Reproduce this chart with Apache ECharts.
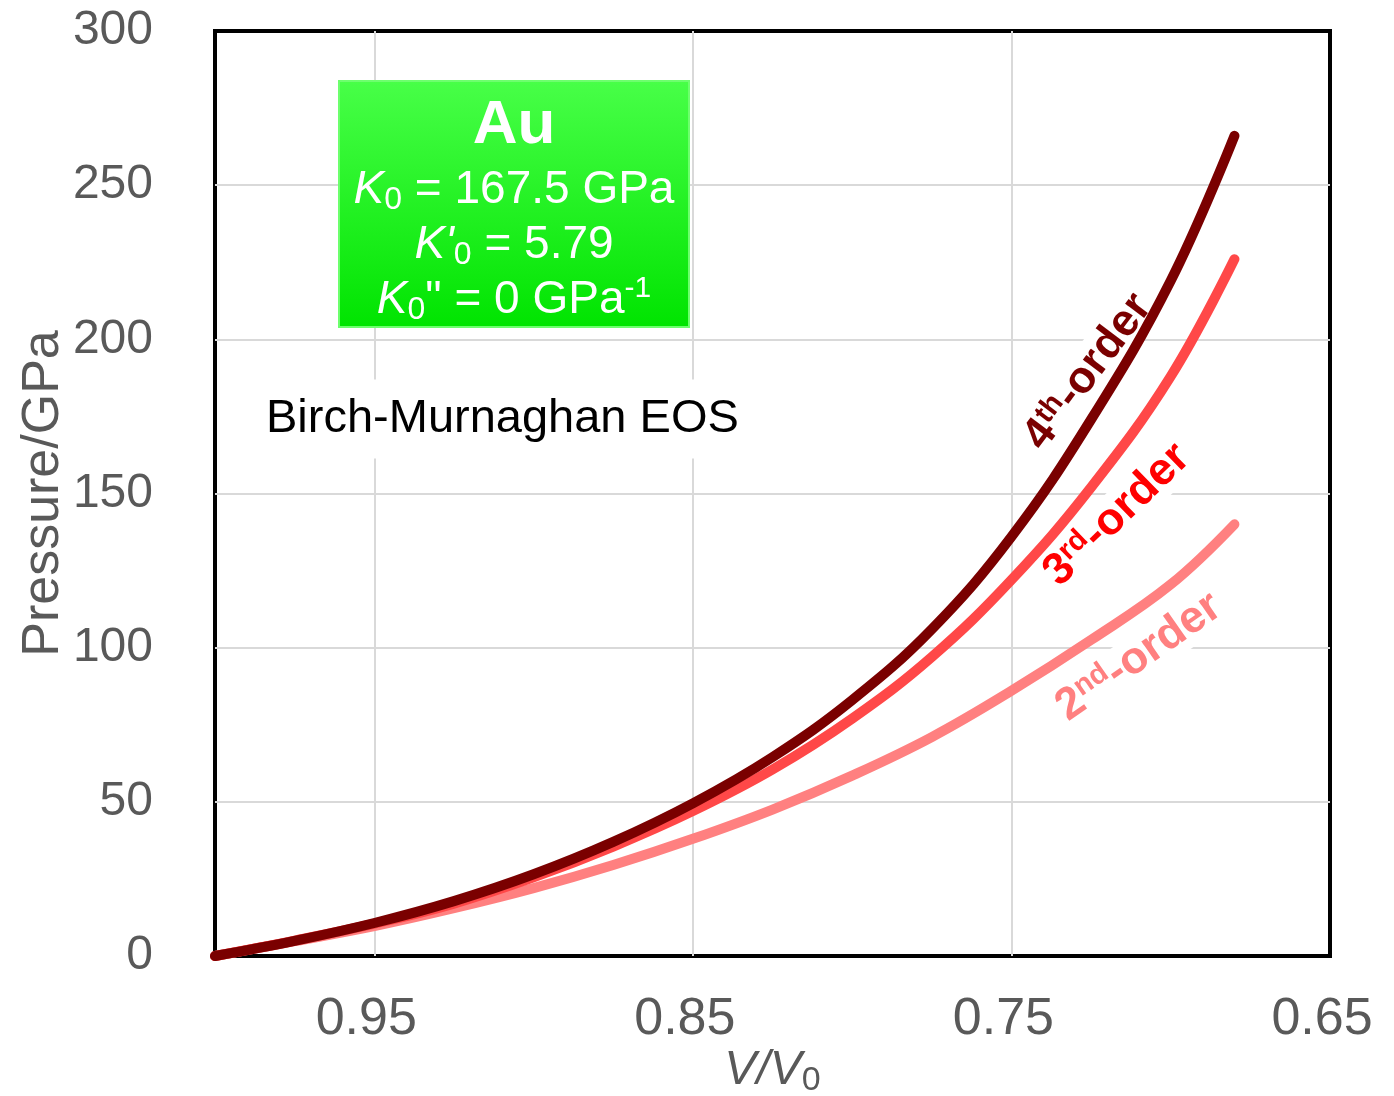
<!DOCTYPE html>
<html>
<head>
<meta charset="utf-8">
<script src="https://cdn.jsdelivr.net/npm/echarts@6/dist/echarts.min.js"></script>
<style>
  html, body { margin: 0; padding: 0; background: #fff; }
  #chart { width: 1394px; height: 1096px; }
</style>
</head>
<body>
<div id="chart"></div>
<script>
// V/V0 points
const vRatio = [1.0, 0.975, 0.95, 0.925, 0.9, 0.875, 0.85, 0.825, 0.8, 0.775, 0.75, 0.725, 0.7, 0.68];
// pressure (GPa) for each order of the Birch-Murnaghan EOS
const p2nd = [0, 4.8, 9.7, 15.5, 22, 29.5, 38, 47.5, 58.5, 71, 86, 102.5, 120.5, 140];
const p3rd = [0, 5, 10.5, 17, 25.5, 35.5, 47, 60.5, 77, 97, 122, 152, 188, 226];
const p4th = [0, 4.9, 10.7, 17.8, 26.5, 37, 49.5, 64.5, 83, 106, 136, 174, 219, 266];

const chart = echarts.init(document.getElementById('chart'));
const FONT = 'Liberation Sans';
const GRAY = '#595959';

let zip = function (xs, ys) {
  let out = [];
  for (let i = 0; i < xs.length; i++) out.push([xs[i], ys[i]]);
  return out;
};

let curve = function (name, color, data) {
  return {
    name: name,
    type: 'line',
    smooth: 0.4,
    showSymbol: false,
    clip: false,
    lineStyle: { color: color, width: 10, cap: 'round', join: 'round' },
    data: zip(vRatio, data)
  };
};

// white text for the green parameter box
let w = function (size, extra) {
  return Object.assign({ fill: '#fff', fontSize: size, fontFamily: FONT, lineHeight: 52 }, extra || {});
};
const boxRich = {
  n: w(46),
  k: w(46, { fontStyle: 'italic' }),
  sub: w(32, { lineHeight: 26, verticalAlign: 'bottom' }),
  sup: w(30, { lineHeight: 24, verticalAlign: 'top' })
};

let orderLabel = function (x, y, deg, num, sup, color, z) {
  return {
    type: 'text', x: x, y: y, z: z,
    rotation: deg * Math.PI / 180,
    style: {
      text: '{n|' + num + '}{s|' + sup + '}{n|-order}',
      align: 'center', verticalAlign: 'middle',
      backgroundColor: '#fff',
      rich: {
        n: { fill: color, fontSize: 45, fontWeight: 'bold', fontFamily: FONT, lineHeight: 46 },
        s: { fill: color, fontSize: 29, fontWeight: 'bold', fontFamily: FONT, lineHeight: 26, verticalAlign: 'top' }
      }
    }
  };
};

const option = {
  animation: false,
  grid: {
    left: 215, right: 64, top: 31, bottom: 140,
    outerBoundsMode: 'none',
    containLabel: false,
    show: true, borderColor: '#000', borderWidth: 4
  },
  xAxis: {
    type: 'value',
    inverse: true,
    min: 0.65, max: 1.0, interval: 0.1,
    name: '{i|V}{n|/}{i|V}{s|0}',
    nameLocation: 'middle',
    nameGap: 88,
    nameMoveOverlap: false,
    nameTextStyle: {
      rich: {
        i: { fontSize: 48, fontStyle: 'italic', color: GRAY, fontFamily: FONT, lineHeight: 54 },
        n: { fontSize: 48, fontStyle: 'italic', color: GRAY, fontFamily: FONT, lineHeight: 54 },
        s: { fontSize: 34, color: GRAY, fontFamily: FONT, lineHeight: 28, verticalAlign: 'bottom' }
      }
    },
    axisLine: { show: false },
    axisTick: { show: false },
    axisLabel: {
      fontSize: 52, color: GRAY, fontFamily: FONT, margin: 38,
      padding: [0, 16, 0, 0],
      formatter: function (v) { return Math.abs(v - 1) < 1e-6 ? '' : v.toFixed(2); }
    },
    splitLine: { showMinLine: false, showMaxLine: false, lineStyle: { color: '#d9d9d9', width: 2 } }
  },
  yAxis: {
    type: 'value',
    min: 0, max: 300, interval: 50,
    name: 'Pressure/GPa',
    nameLocation: 'middle',
    nameGap: 145,
    nameMoveOverlap: false,
    nameTextStyle: { fontSize: 52, color: GRAY, fontFamily: FONT },
    axisLine: { show: false },
    axisTick: { show: false },
    axisLabel: { fontSize: 48, color: GRAY, fontFamily: FONT, margin: 62 },
    splitLine: { showMinLine: false, showMaxLine: false, lineStyle: { color: '#d9d9d9', width: 2 } }
  },
  series: [
    curve('2nd-order', '#ff8080', p2nd),
    curve('3rd-order', '#ff4848', p3rd),
    curve('4th-order', '#7a0000', p4th)
  ],
  graphic: [
    {
      type: 'rect', z: 10,
      shape: { x: 339, y: 81, width: 350, height: 246 },
      style: {
        fill: new echarts.graphic.LinearGradient(0, 0, 0, 1, [
          { offset: 0, color: '#48ff48' },
          { offset: 1, color: '#00e400' }
        ]),
        stroke: '#6dff6d', lineWidth: 2
      }
    },
    {
      type: 'text', x: 514, y: 126, z: 11,
      style: { text: 'Au', fill: '#fff', fontSize: 62, fontWeight: 'bold', fontFamily: FONT, align: 'center', verticalAlign: 'middle' }
    },
    {
      type: 'text', x: 514, y: 190, z: 11,
      style: { text: '{k|K}{sub|0}{n| = 167.5 GPa}', rich: boxRich, align: 'center', verticalAlign: 'middle' }
    },
    {
      type: 'text', x: 514, y: 245, z: 11,
      style: { text: "{k|K'}{sub|0}{n| = 5.79}", rich: boxRich, align: 'center', verticalAlign: 'middle' }
    },
    {
      type: 'text', x: 514, y: 300, z: 11,
      style: { text: '{k|K}{sub|0}{n|" = 0 GPa}{sup|-1}', rich: boxRich, align: 'center', verticalAlign: 'middle' }
    },
    {
      type: 'text', x: 256, y: 419, z: 10,
      style: {
        text: 'Birch-Murnaghan EOS', fill: '#000', fontSize: 47, fontFamily: FONT,
        align: 'left', verticalAlign: 'middle',
        backgroundColor: '#fff', padding: [16, 10]
      }
    },
    orderLabel(1088, 372, 53, '4', 'th', '#7a0000', 1),
    orderLabel(1117, 515, 44, '3', 'rd', '#ff0000', 20),
    orderLabel(1139, 657, 35, '2', 'nd', '#ff8080', 20)
  ]
};

chart.setOption(option);
</script>
</body>
</html>
